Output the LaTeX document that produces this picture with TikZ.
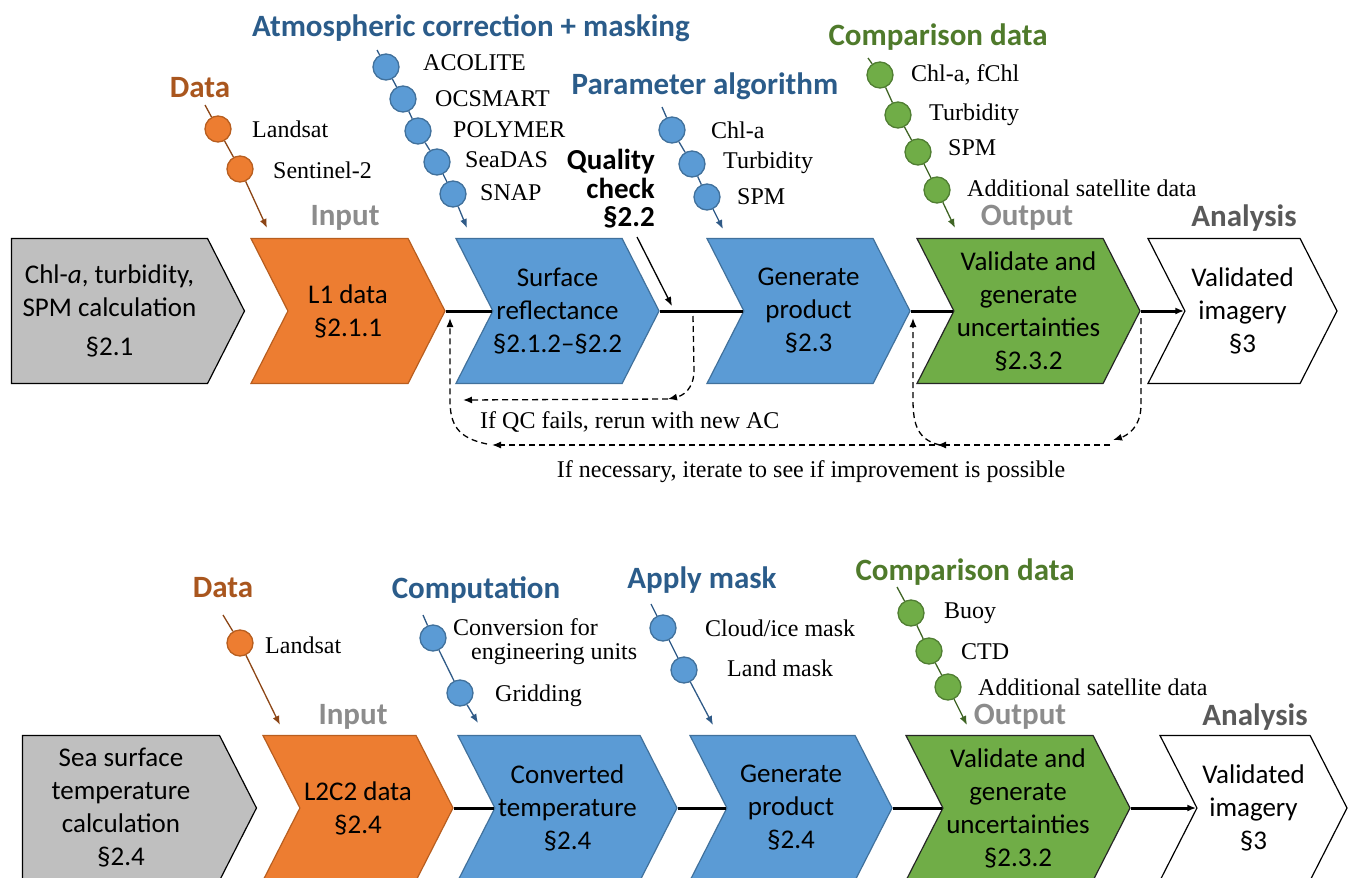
\documentclass[tikz,border=0pt]{standalone}
\usepackage{fontspec}
\setmainfont{Liberation Serif}
\newfontfamily\calfont{Carlito}
\usetikzlibrary{shapes.symbols,arrows.meta}
\definecolor{orF}{HTML}{ED7D31}
\definecolor{orD}{HTML}{B85E1F}
\definecolor{bluF}{HTML}{5B9BD5}
\definecolor{bluD}{HTML}{41719C}
\definecolor{grnF}{HTML}{70AD47}
\definecolor{grnD}{HTML}{507E32}
\definecolor{greyF}{HTML}{BFBFBF}
\definecolor{hdData}{HTML}{A9561E}
\definecolor{hdBlue}{HTML}{2B5C8A}
\definecolor{hdGreen}{HTML}{4F7A2B}
\definecolor{chData}{HTML}{8C4515}
\definecolor{chBlue}{HTML}{2F5A87}
\definecolor{chGreen}{HTML}{3F6424}
\begin{document}
\begin{tikzpicture}[x=1pt,y=-1pt,>={Latex[length=9pt,width=7pt]}]
\tikzset{
  chev/.style={shape=signal, signal to=east, signal from=west, signal pointer angle=126,
    minimum height=145pt, inner sep=0pt, align=center, line width=1.2pt,
    font=\calfont\fontsize{27}{33}\selectfont},
  head/.style={font=\calfont\bfseries\fontsize{31}{34}\selectfont},
  bead/.style={circle, minimum size=26pt, inner sep=0pt, line width=1.3pt},
  item/.style={anchor=west, font=\fontsize{24}{27}\selectfont, inner sep=0pt, align=left},
  link/.style={line width=3pt},
  fb/.style={dashed, line width=1.3pt, dash pattern=on 6pt off 4pt}
}
\useasboundingbox (0,0) rectangle (1355,878);

% top row
\node[chev, signal from=nowhere, fill=greyF, draw=black, minimum width=233pt] (calc) at (109.5,311) {Chl-\textit{a}, turbidity,\\SPM calculation\\[6pt]§2.1};
\node[chev, fill=orF, draw=orD, minimum width=194pt] (lone) at (348,311) {L1 data\\§2.1.1};
\node[chev, fill=bluF, draw=bluD, minimum width=201pt] (surf) at (557.5,311) {Surface\\reflectance\\§2.1.2–§2.2};
\node[chev, fill=bluF, draw=bluD, minimum width=203pt] (gen) at (808.5,311) {Generate\\product\\§2.3};
\node[chev, fill=grnF, draw=black!85, minimum width=223pt] (valid) at (1028.5,311) {Validate and\\generate\\uncertainties\\§2.3.2};
\node[chev, fill=white, draw=black, minimum width=189pt] (img) at (1242.5,311) {Validated\\imagery\\§3};
\draw[link] (lone.east) -- (surf.west);
\draw[link] (surf.east) -- (gen.west);
\draw[link] (gen.east) -- (valid.west);
\draw[link,->] (valid.east) -- (img.west);

\node[head, text=black!45] (inp) at (345,218) {Input};
\node[head, text=black!45] (outp) at (1027,218) {Output};
\node[head, text=black!65] (ana) at (1244,218) {Analysis};
\node[head, text=hdData] (hdata) at (200,88) {Data};
\node[head, text=hdBlue] (hatm) at (471,28) {Atmospheric correction + masking};
\node[head, text=hdBlue] (hpar) at (705,86) {Parameter algorithm};
\node[head, text=hdGreen] (hcmp) at (938,37) {Comparison data};
\node[font=\calfont\bfseries\fontsize{29}{28.5}\selectfont, align=right, anchor=north east, inner sep=0pt] (qc) at (655,149) {Quality\\check\\§2.2};

% data chain
\coordinate (ds) at (205,105);
\coordinate (dt) at (267,228);
\node[bead, fill=orF, draw=orD] (da) at (218,129) {};
\node[bead, fill=orF, draw=orD] (db) at (240,169) {};
\draw[chData, line width=1.3pt, ->] (ds) -- (da) -- (db) -- (dt);
\node[item] at (252,129) {Landsat};
\node[item] at (273,170) {Sentinel-2};

% atmospheric correction chain
\coordinate (as) at (377,50);
\coordinate (at) at (467,228);
\node[bead, fill=bluF, draw=bluD] (aa) at (386,67) {};
\node[bead, fill=bluF, draw=bluD] (ab) at (403,99) {};
\node[bead, fill=bluF, draw=bluD] (ac) at (418,131) {};
\node[bead, fill=bluF, draw=bluD] (ad) at (437,162) {};
\node[bead, fill=bluF, draw=bluD] (ae) at (453,194) {};
\draw[chBlue, line width=1.3pt, ->] (as) -- (aa) -- (ab) -- (ac) -- (ad) -- (ae) -- (at);
\node[item] at (423,63) {ACOLITE};
\node[item] at (435,99) {OCSMART};
\node[item] at (453,130) {POLYMER};
\node[item] at (465,160) {SeaDAS};
\node[item] at (480,193) {SNAP};

% parameter chain
\coordinate (ps) at (662,107);
\coordinate (pt) at (723,229);
\node[bead, fill=bluF, draw=bluD] (pa) at (672,130) {};
\node[bead, fill=bluF, draw=bluD] (pb) at (692,164) {};
\node[bead, fill=bluF, draw=bluD] (pc) at (707,197) {};
\draw[chBlue, line width=1.3pt, ->] (ps) -- (pa) -- (pb) -- (pc) -- (pt);
\node[item] at (711,130) {Chl-a};
\node[item] at (723,163) {Turbidity};
\node[item] at (737,197) {SPM};

% comparison chain
\coordinate (cs) at (868,58);
\coordinate (ct) at (955,228);
\node[bead, fill=grnF, draw=grnD] (ca) at (880,75) {};
\node[bead, fill=grnF, draw=grnD] (cb) at (898,115) {};
\node[bead, fill=grnF, draw=grnD] (cc) at (918,152) {};
\node[bead, fill=grnF, draw=grnD] (cd) at (937,190) {};
\draw[chGreen, line width=1.3pt, ->] (cs) -- (ca) -- (cb) -- (cc) -- (cd) -- (ct);
\node[item] at (911,75) {Chl-a, fChl};
\node[item] at (929,115) {Turbidity};
\node[item] at (948,148) {SPM};
\node[item] at (967,188) {Additional satellite data};

% quality check arrow
\coordinate (qs) at (637,237);
\coordinate (qt) at (672,306);
\draw[line width=1.3pt, ->] (qs) -- (qt);

% feedback loops
\coordinate (qa) at (693,316);
\coordinate (qb) at (668,399);
\coordinate (qe) at (463,400);
\draw[fb, ->] (qa) -- (694,370) .. controls (694,390) and (682,396) .. (qb);
\draw[fb, ->] (qb) -- (qe);
\coordinate (va) at (1141,318);
\coordinate (vb) at (1113,440);
\coordinate (vc) at (937,445);
\coordinate (vd) at (913,318);
\coordinate (ve) at (492,445);
\coordinate (vf) at (450,318);
\draw[fb, ->] (va) -- (1141,405) .. controls (1141,428) and (1126,436) .. (vb);
\draw[fb, ->] (1110,445) -- (vc);
\draw[fb, ->] (940,445) .. controls (918,440) and (913,425) .. (913,400) -- (vd);
\draw[fb, ->] (935,445) -- (ve);
\draw[fb, ->] (487,444) .. controls (458,438) and (450,425) .. (450,400) -- (vf);
\node[item] (qctext) at (480,422) {If QC fails, rerun with new AC};
\node[font=\fontsize{24}{27}\selectfont, inner sep=0pt] (ittext) at (811,472) {If necessary, iterate to see if improvement is possible};

% bottom row
\node[chev, signal from=nowhere, fill=greyF, draw=black, minimum width=234pt] (sst) at (121,808) {Sea surface\\temperature\\calculation\\§2.4};
\node[chev, fill=orF, draw=orD, minimum width=190pt] (ltwo) at (358,808) {L2C2 data\\§2.4};
\node[chev, fill=bluF, draw=bluD, minimum width=219pt] (conv) at (567.5,808) {Converted\\temperature\\§2.4};
\node[chev, fill=bluF, draw=bluD, minimum width=202pt] (gentwo) at (791,808) {Generate\\product\\§2.4};
\node[chev, fill=grnF, draw=black!85, minimum width=224pt] (validtwo) at (1018,808) {Validate and\\generate\\uncertainties\\§2.3.2};
\node[chev, fill=white, draw=black, minimum width=187pt] (imgtwo) at (1253.5,808) {Validated\\imagery\\§3};
\draw[link] (ltwo.east) -- (conv.west);
\draw[link] (conv.east) -- (gentwo.west);
\draw[link] (gentwo.east) -- (validtwo.west);
\draw[link,->] (validtwo.east) -- (imgtwo.west);

\node[head, text=black!45] (inptwo) at (353,717) {Input};
\node[head, text=black!45] (outptwo) at (1020,717) {Output};
\node[head, text=black!65] (anatwo) at (1255,717) {Analysis};
\node[head, text=hdData] (hdatatwo) at (223,588) {Data};
\node[head, text=hdBlue] (hcomp) at (476,590) {Computation};
\node[head, text=hdBlue] (hmask) at (702,580) {Apply mask};
\node[head, text=hdGreen] (hcmptwo) at (965,572) {Comparison data};

% bottom chains
\coordinate (es) at (223,615);
\coordinate (et) at (280,725);
\node[bead, fill=orF, draw=orD] (ea) at (240,643) {};
\draw[chData, line width=1.3pt, ->] (es) -- (ea) -- (et);
\node[item] at (265,645) {Landsat};

\coordinate (ms) at (423,615);
\coordinate (mt) at (478,723);
\node[bead, fill=bluF, draw=bluD] (ma) at (433,638) {};
\node[bead, fill=bluF, draw=bluD] (mb) at (460,693) {};
\draw[chBlue, line width=1.3pt, ->] (ms) -- (ma) -- (mb) -- (mt);
\node[item] at (453,627) {Conversion for};
\node[item] at (471,654) {engineering units};
\node[item] at (495,696) {Gridding};

\coordinate (ks) at (651,604);
\coordinate (kt) at (713,725);
\node[bead, fill=bluF, draw=bluD] (ka) at (663,628) {};
\node[bead, fill=bluF, draw=bluD] (kb) at (684,670) {};
\draw[chBlue, line width=1.3pt, ->] (ks) -- (ka) -- (kb) -- (kt);
\node[item] at (705,628) {Cloud/ice mask};
\node[item] at (727,668) {Land mask};

\coordinate (gs) at (897,587);
\coordinate (gt) at (967,725);
\node[bead, fill=grnF, draw=grnD] (ga) at (911,613) {};
\node[bead, fill=grnF, draw=grnD] (gb) at (929,651) {};
\node[bead, fill=grnF, draw=grnD] (gc) at (948,687) {};
\draw[chGreen, line width=1.3pt, ->] (gs) -- (ga) -- (gb) -- (gc) -- (gt);
\node[item] at (944,613) {Buoy};
\node[item] at (961,652) {CTD};
\node[item] at (978,687) {Additional satellite data};
\end{tikzpicture}
\end{document}
